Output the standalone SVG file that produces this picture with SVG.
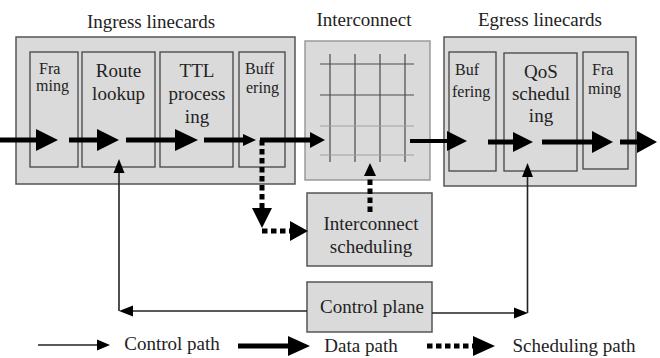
<svg xmlns="http://www.w3.org/2000/svg" width="660" height="358" viewBox="0 0 660 358">
  <defs>
    <style>
      .card { fill: #dadada; stroke: #555; stroke-width: 1.5; }
      .stage { fill: #dadada; stroke: #444; stroke-width: 1.3; }
      .xbar { fill: #dadada; stroke: #9a9a9a; stroke-width: 1.5; }
      .grid-d { stroke: #4a4a4a; stroke-width: 1.2; }
      .grid-l { stroke: #a0a0a0; stroke-width: 1.2; }
      .t { font-family: "Liberation Serif", "Times New Roman", serif; fill: #222; text-anchor: middle; }
      .big { font-size: 19px; }
      .small { font-size: 16px; text-anchor: start; }
      .data { stroke: #000; stroke-width: 5; fill: none; }
      .ctrl { stroke: #222; stroke-width: 1.6; fill: none; }
      .sched { stroke: #000; stroke-width: 5; fill: none; stroke-dasharray: 5.5 3.5; }
      .head { fill: #000; }
    </style>
  </defs>

  <rect width="660" height="358" fill="#fff"/>

  <!-- group titles -->
  <text class="t big" x="151" y="28">Ingress linecards</text>
  <text class="t big" x="364" y="26">Interconnect</text>
  <text class="t big" x="540" y="26">Egress linecards</text>

  <!-- ingress linecard -->
  <g id="ingress">
    <rect class="card" x="16" y="37" width="279" height="147"/>
    <g id="ing-framing">
      <rect class="stage" x="30" y="52" width="48" height="115"/>
      <text class="t small" x="39" y="74">Fra</text>
      <text class="t small" x="36" y="91">ming</text>
    </g>
    <g id="route-lookup">
      <rect class="stage" x="82" y="52" width="73" height="115"/>
      <text class="t big" x="118.5" y="77">Route</text>
      <text class="t big" x="118.5" y="100">lookup</text>
    </g>
    <g id="ttl-processing">
      <rect class="stage" x="160" y="52" width="73" height="115"/>
      <text class="t big" x="197" y="77">TTL</text>
      <text class="t big" x="197" y="100">process</text>
      <text class="t big" x="197" y="123">ing</text>
    </g>
    <g id="ing-buffering">
      <rect class="stage" x="239" y="52" width="46" height="115"/>
      <text class="t small" x="245" y="74">Buff</text>
      <text class="t small" x="246" y="93">ering</text>
    </g>
  </g>

  <!-- crossbar interconnect -->
  <g id="interconnect">
    <rect class="xbar" x="305" y="41" width="125" height="139"/>
    <line class="grid-d" x1="330" y1="54" x2="330" y2="162"/>
    <line class="grid-d" x1="355" y1="54" x2="355" y2="162"/>
    <line class="grid-d" x1="380" y1="54" x2="380" y2="162"/>
    <line class="grid-d" x1="405" y1="54" x2="405" y2="162"/>
    <line class="grid-d" x1="320" y1="64" x2="414" y2="64"/>
    <line class="grid-d" x1="320" y1="95" x2="414" y2="95"/>
    <line class="grid-l" x1="320" y1="126" x2="414" y2="126"/>
    <line class="grid-l" x1="320" y1="155" x2="414" y2="155"/>
  </g>

  <!-- egress linecard -->
  <g id="egress">
    <rect class="card" x="444" y="37" width="192" height="149"/>
    <g id="eg-buffering">
      <rect class="stage" x="449" y="52" width="47" height="119"/>
      <text class="t small" x="455" y="75">Buf</text>
      <text class="t small" x="452" y="97">fering</text>
    </g>
    <g id="qos-scheduling">
      <rect class="stage" x="504" y="53" width="73" height="118"/>
      <text class="t big" x="541" y="78">QoS</text>
      <text class="t big" x="541" y="100">schedul</text>
      <text class="t big" x="541" y="122">ing</text>
    </g>
    <g id="eg-framing">
      <rect class="stage" x="583" y="52" width="45" height="117"/>
      <text class="t small" x="592" y="75">Fra</text>
      <text class="t small" x="588" y="94">ming</text>
    </g>
  </g>

  <g id="interconnect-scheduling">
    <rect class="card" x="307" y="193" width="125" height="73"/>
    <text class="t big" x="371" y="230">Interconnect</text>
    <text class="t big" x="371" y="253">scheduling</text>
  </g>

  <g id="control-plane">
    <rect class="card" x="307" y="282" width="125" height="50"/>
    <text class="t big" x="372" y="313">Control plane</text>
  </g>

  <!-- connectors -->
  <g id="connectors">
    <!-- data path through the ingress card -->
    <line class="data" x1="0" y1="140" x2="37" y2="140"/>
    <polygon class="head" points="36,129 58,140 36,151"/>
    <line class="data" x1="69" y1="140" x2="98" y2="140"/>
    <polygon class="head" points="97,129 119,140 97,151"/>
    <line class="data" x1="126" y1="140" x2="176" y2="140"/>
    <polygon class="head" points="175,129 198,140 175,151"/>
    <line class="data" x1="204" y1="140" x2="244" y2="140"/>
    <polygon class="head" points="243,134 256,140 243,146"/>
    <!-- ingress to crossbar -->
    <line class="data" x1="260" y1="140" x2="311" y2="140"/>
    <polygon class="head" points="310,132 325,140 310,148"/>
    <!-- crossbar to egress -->
    <line class="data" x1="410" y1="141" x2="448" y2="141" style="stroke-width:4"/>
    <polygon class="head" points="447,131 467,141 447,151"/>
    <!-- data path through the egress card -->
    <line class="data" x1="488" y1="142" x2="514" y2="142"/>
    <polygon class="head" points="513,132 533,142 513,152"/>
    <line class="data" x1="542" y1="142" x2="593" y2="142"/>
    <polygon class="head" points="592,131 613,142 592,153"/>
    <line class="data" x1="620" y1="142" x2="638" y2="142"/>
    <polygon class="head" points="637,131 657,142 637,153"/>

    <!-- scheduling requests: ingress buffer down to the scheduler -->
    <path class="sched" d="M262,140 V209"/>
    <polygon class="head" points="252,208 272,208 262,228"/>
    <path class="sched" d="M262,231 H292"/>
    <polygon class="head" points="290,221 308,231 290,241"/>
    <!-- scheduler configures the crossbar -->
    <path class="sched" d="M370,212 V176"/>
    <polygon class="head" points="364,176 376,176 370,163"/>

    <!-- control plane to route lookup -->
    <path class="ctrl" d="M307,311 H132"/>
    <polygon class="head" points="133,305.5 119,311 133,316.5"/>
    <path class="ctrl" d="M119,311 V172"/>
    <polygon class="head" points="113.5,173 119,159 124.5,173"/>
    <!-- control plane to QoS scheduling -->
    <path class="ctrl" d="M432,313 H515"/>
    <polygon class="head" points="514,307.5 528,313 514,318.5"/>
    <path class="ctrl" d="M527.5,313 V176"/>
    <polygon class="head" points="522,177 527.5,163 533,177"/>
  </g>

  <!-- legend -->
  <g id="legend">
    <line class="ctrl" x1="38" y1="345" x2="98" y2="345"/>
    <polygon class="head" points="97,339.5 110,345 97,350.5"/>
    <text class="t big" x="172" y="350">Control path</text>

    <line class="data" x1="238" y1="346" x2="289" y2="346"/>
    <polygon class="head" points="288,336 310,346 288,356"/>
    <text class="t big" x="361" y="352">Data path</text>

    <line class="sched" x1="427" y1="346" x2="474" y2="346"/>
    <polygon class="head" points="473,336 495,346 473,356"/>
    <text class="t big" x="574" y="352">Scheduling path</text>
  </g>
</svg>
